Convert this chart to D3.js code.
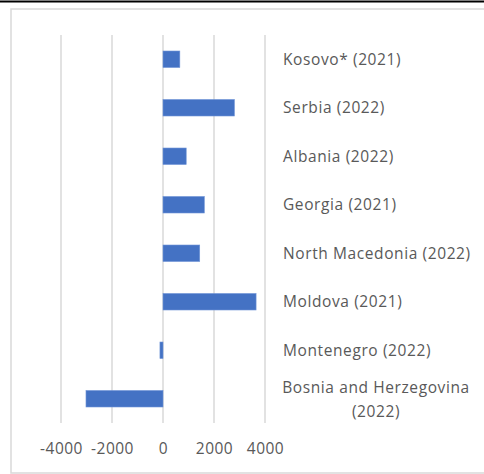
<!DOCTYPE html>
<html><head><meta charset="utf-8">
<script src="https://cdn.jsdelivr.net/npm/d3@7"></script>
<style>html,body{margin:0;padding:0;background:#fff;}</style>
</head><body>
<svg id="c" width="484" height="474"></svg>
<script>
const categories = ["Kosovo* (2021)","Serbia (2022)","Albania (2022)","Georgia (2021)","North Macedonia (2022)","Moldova (2021)","Montenegro (2022)","Bosnia and Herzegovina (2022)"];
const values = [660, 2800, 910, 1620, 1440, 3650, -120, -3020];
const tickValues = [-4000, -2000, 0, 2000, 4000];

const FONT = "'Open Sans', 'Noto Sans', sans-serif";
const svg = d3.select("#c");
// top black rule
svg.append("line").attr("x1",0).attr("x2",484).attr("y1",1.5).attr("y2",1.5).attr("stroke","#000").attr("stroke-width",2);
// chart border
svg.append("rect").attr("x",11).attr("y",9).attr("width",480).attr("height",464)
  .attr("fill","#fff").attr("stroke","#d9d9d9").attr("stroke-width",1.5);

const x = d3.scaleLinear().domain([-4000,4000]).range([61,265]);
const y = d3.scaleBand().domain(categories).range([35,423]).paddingInner(0.66).paddingOuter(0.33);

// gridlines
svg.append("g").selectAll("line").data(tickValues).join("line")
  .attr("x1",d=>x(d)).attr("x2",d=>x(d)).attr("y1",35).attr("y2",423)
  .attr("stroke","#d9d9d9").attr("stroke-width",1.5);

// x axis labels
const ax = svg.append("g").attr("transform","translate(0,449)")
  .call(d3.axisBottom(x).tickValues(tickValues).tickSize(0).tickFormat(d=>String(d)));
ax.select(".domain").remove();
ax.selectAll("text").attr("dy","0.35em").attr("y",0).attr("fill","#595959")
  .style("font-family",FONT).style("font-size","15.5px").style("letter-spacing","0.5px");

// bars
svg.append("g").selectAll("rect").data(values).join("rect")
  .attr("x",d=>Math.min(x(0),x(d))).attr("width",d=>Math.abs(x(d)-x(0)))
  .attr("y",(d,i)=>y(categories[i])).attr("height",y.bandwidth())
  .attr("fill","#4472C4").attr("stroke","#6f94d6").attr("stroke-width",0.6);

// category labels
const lab = svg.append("g").selectAll("text").data(categories).join("text")
  .attr("fill","#595959").style("font-family",FONT).style("font-size","15.5px").style("letter-spacing","0.6px");
lab.each(function(d,i){
  const t = d3.select(this);
  const cy = y(d)+y.bandwidth()/2;
  if (d.startsWith("Bosnia")) {
    t.attr("text-anchor","middle");
    t.append("tspan").attr("x",376).attr("y",cy-11).attr("dy","0.35em").text("Bosnia and Herzegovina");
    t.append("tspan").attr("x",376).attr("y",cy+13).attr("dy","0.35em").text("(2022)");
  } else {
    t.attr("x",283).attr("y",cy).attr("dy","0.35em").text(d);
  }
});
</script>
</body></html>
